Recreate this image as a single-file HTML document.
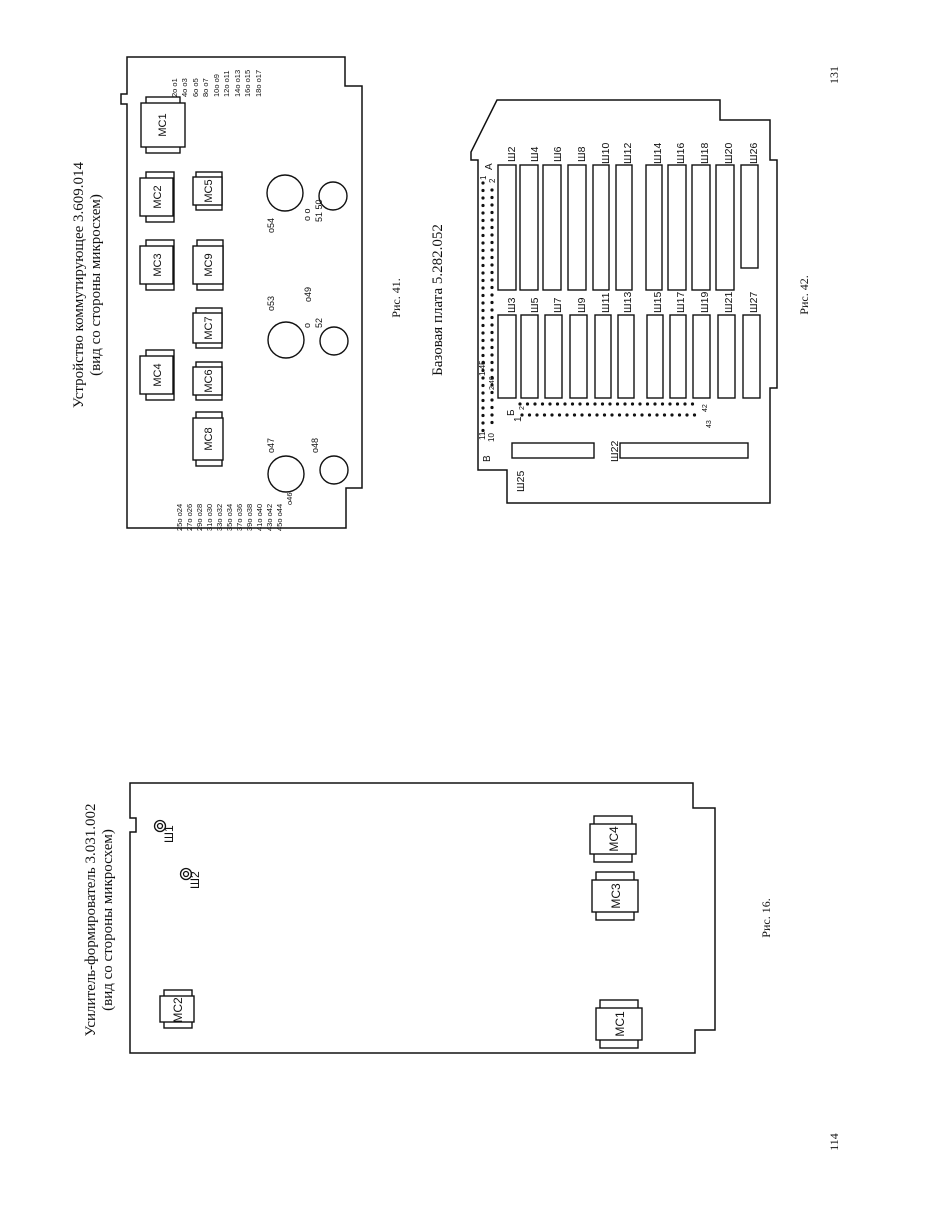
<!DOCTYPE html>
<html><head><meta charset="utf-8"><style>
html,body{margin:0;padding:0;background:#fff}
svg{display:block}
text{font-family:"Liberation Sans","DejaVu Sans",sans-serif;fill:#111}
.s{font-family:"Liberation Serif","DejaVu Serif",serif}
</style></head><body>
<svg width="935" height="1224" viewBox="0 0 935 1224" xmlns="http://www.w3.org/2000/svg">
<g fill="none" stroke="#111" stroke-width="1.5">
<!-- Board 1 outline -->
<path d="M127,57 L345,57 L345,86 L362,86 L362,488 L346,488 L346,528 L127,528 L127,104 L121,104 L121,94 L127,94 Z"/>
<!-- Board 2 outline -->
<path d="M497,100 L720,100 L720,120 L770,120 L770,160 L777,160 L777,388 L770,388 L770,503 L507,503 L507,470 L478,470 L478,160 L471,160 L471,152 Z"/>
<!-- Board 3 outline -->
<path d="M130,783 L693,783 L693,808 L715,808 L715,1030 L695,1030 L695,1053 L130,1053 L130,832 L136,832 L136,818 L130,818 Z"/>
</g>

<!-- chips board1 -->
<g fill="#fff" stroke="#111" stroke-width="1.4">
<rect x="146" y="97" width="34" height="56"/><rect x="141" y="103" width="44" height="44"/>
<rect x="146" y="172" width="28" height="50"/><rect x="140" y="178" width="33" height="38"/>
<rect x="146" y="240" width="28" height="50"/><rect x="140" y="246" width="33" height="38"/>
<rect x="146" y="350" width="28" height="50"/><rect x="140" y="356" width="33" height="38"/>
<rect x="196" y="172" width="26" height="38"/><rect x="193" y="177" width="29" height="28"/>
<rect x="197" y="240" width="26" height="50"/><rect x="193" y="246" width="30" height="38"/>
<rect x="196" y="308" width="26" height="40"/><rect x="193" y="313" width="29" height="30"/>
<rect x="196" y="362" width="26" height="38"/><rect x="193" y="367" width="29" height="28"/>
<rect x="196" y="412" width="26" height="54"/><rect x="193" y="418" width="30" height="42"/>
</g>
<g font-size="11">
<text transform="translate(166,125) rotate(-90)" text-anchor="middle">MC1</text>
<text transform="translate(161,197) rotate(-90)" text-anchor="middle">MC2</text>
<text transform="translate(161,265) rotate(-90)" text-anchor="middle">MC3</text>
<text transform="translate(161,375) rotate(-90)" text-anchor="middle">MC4</text>
<text transform="translate(212,191) rotate(-90)" text-anchor="middle">MC5</text>
<text transform="translate(212,265) rotate(-90)" text-anchor="middle">MC9</text>
<text transform="translate(212,328) rotate(-90)" text-anchor="middle">MC7</text>
<text transform="translate(212,381) rotate(-90)" text-anchor="middle">MC6</text>
<text transform="translate(212,439) rotate(-90)" text-anchor="middle">MC8</text>
</g>
<g fill="none" stroke="#111" stroke-width="1.4">
<circle cx="285" cy="193" r="18"/><circle cx="333" cy="196" r="14"/>
<circle cx="286" cy="340" r="18"/><circle cx="334" cy="341" r="14"/>
<circle cx="286" cy="474" r="18"/><circle cx="334" cy="470" r="14"/>
</g>
<g font-size="9">
<text transform="translate(274,233) rotate(-90)">o54</text>
<text transform="translate(274,311) rotate(-90)">o53</text>
<text transform="translate(311,302) rotate(-90)">o49</text>
<text transform="translate(310,328) rotate(-90)">o</text>
<text transform="translate(322,328) rotate(-90)">52</text>
<text transform="translate(310,221) rotate(-90)">o o</text>
<text transform="translate(322,222) rotate(-90)">51 50</text>
<text transform="translate(274,453) rotate(-90)">o47</text>
<text transform="translate(318,453) rotate(-90)">o48</text>
</g>
<g font-size="7.5">
<text transform="translate(177,97) rotate(-90)">2o  o1</text>
<text transform="translate(187,97) rotate(-90)">4o  o3</text>
<text transform="translate(198,97) rotate(-90)">6o  o5</text>
<text transform="translate(208,97) rotate(-90)">8o  o7</text>
<text transform="translate(219,97) rotate(-90)">10o o9</text>
<text transform="translate(229,97) rotate(-90)">12o o11</text>
<text transform="translate(240,97) rotate(-90)">14o o13</text>
<text transform="translate(250,97) rotate(-90)">16o o15</text>
<text transform="translate(261,97) rotate(-90)">18o o17</text>
<text transform="translate(182,531) rotate(-90)">25o  o24</text>
<text transform="translate(192,531) rotate(-90)">27o  o26</text>
<text transform="translate(202,531) rotate(-90)">29o  o28</text>
<text transform="translate(212,531) rotate(-90)">31o  o30</text>
<text transform="translate(222,531) rotate(-90)">33o  o32</text>
<text transform="translate(232,531) rotate(-90)">35o  o34</text>
<text transform="translate(242,531) rotate(-90)">37o  o36</text>
<text transform="translate(252,531) rotate(-90)">39o  o38</text>
<text transform="translate(262,531) rotate(-90)">41o  o40</text>
<text transform="translate(272,531) rotate(-90)">43o  o42</text>
<text transform="translate(282,531) rotate(-90)">45o  o44</text>
<text transform="translate(292,505) rotate(-90)">o46</text>
</g>
<g class="s" font-size="15">
<text class="s" transform="translate(83,285) rotate(-90)" text-anchor="middle">Устройство коммутирующее 3.609.014</text>
<text class="s" transform="translate(100,285) rotate(-90)" text-anchor="middle">(вид со стороны микросхем)</text>
<text class="s" transform="translate(442,300) rotate(-90)" text-anchor="middle">Базовая плата 5.282.052</text>
<text class="s" transform="translate(95,920) rotate(-90)" text-anchor="middle">Усилитель-формирователь 3.031.002</text>
<text class="s" transform="translate(112,920) rotate(-90)" text-anchor="middle">(вид со стороны микросхем)</text>
</g>
<g font-size="12">
<text class="s" transform="translate(400,298) rotate(-90)" text-anchor="middle">Рис. 41.</text>
<text class="s" transform="translate(808,295) rotate(-90)" text-anchor="middle">Рис. 42.</text>
<text class="s" transform="translate(770,918) rotate(-90)" text-anchor="middle">Рис. 16.</text>
<text class="s" transform="translate(838,75) rotate(-90)" text-anchor="middle">131</text>
<text class="s" transform="translate(838,1142) rotate(-90)" text-anchor="middle">114</text>
</g>

<!-- Board 2 connectors -->
<g fill="none" stroke="#111" stroke-width="1.4">
<rect x="498" y="165" width="18" height="125"/>
<rect x="520" y="165" width="18" height="125"/>
<rect x="543" y="165" width="18" height="125"/>
<rect x="568" y="165" width="18" height="125"/>
<rect x="593" y="165" width="16" height="125"/>
<rect x="616" y="165" width="16" height="125"/>
<rect x="646" y="165" width="16" height="125"/>
<rect x="668" y="165" width="18" height="125"/>
<rect x="692" y="165" width="18" height="125"/>
<rect x="716" y="165" width="18" height="125"/>
<rect x="741" y="165" width="17" height="103"/>
<rect x="498" y="315" width="18" height="83"/>
<rect x="521" y="315" width="17" height="83"/>
<rect x="545" y="315" width="17" height="83"/>
<rect x="570" y="315" width="17" height="83"/>
<rect x="595" y="315" width="16" height="83"/>
<rect x="618" y="315" width="16" height="83"/>
<rect x="647" y="315" width="16" height="83"/>
<rect x="670" y="315" width="16" height="83"/>
<rect x="693" y="315" width="17" height="83"/>
<rect x="718" y="315" width="17" height="83"/>
<rect x="743" y="315" width="17" height="83"/>
<rect x="512" y="443" width="82" height="15"/>
<rect x="620" y="443" width="128" height="15"/>
</g>
<g stroke="#111" stroke-width="3.2" stroke-linecap="round" stroke-dasharray="0 7.5" fill="none">
<line x1="483" y1="183" x2="483" y2="432"/>
<line x1="492" y1="190" x2="492" y2="428"/>
<line x1="520" y1="404" x2="700" y2="404"/>
<line x1="522" y1="415" x2="702" y2="415"/>
</g>
<g font-size="10">
<text transform="translate(492,170) rotate(-90)">А</text>
<text transform="translate(490,462) rotate(-90)">В</text>
<text transform="translate(514,416) rotate(-90)">Б</text>
<text transform="translate(521,422) rotate(-90)">1</text>
<text transform="translate(524,410) rotate(-90)" font-size="7">2</text>
<text transform="translate(486,180) rotate(-90)" font-size="8">1</text>
<text transform="translate(495,183) rotate(-90)" font-size="8">2</text>
<text transform="translate(485,376) rotate(-90)" font-size="8">1 45</text>
<text transform="translate(494,390) rotate(-90)" font-size="7">2 46</text>
<text transform="translate(485,440) rotate(-90)" font-size="8">11</text>
<text transform="translate(494,442) rotate(-90)" font-size="8">10</text>
<text transform="translate(707,412) rotate(-90)" font-size="7">42</text>
<text transform="translate(711,428) rotate(-90)" font-size="7">43</text>
</g>
<g font-size="10.5">
<text transform="translate(515,162) rotate(-90)">Ш2</text>
<text transform="translate(538,162) rotate(-90)">Ш4</text>
<text transform="translate(561,162) rotate(-90)">Ш6</text>
<text transform="translate(585,162) rotate(-90)">Ш8</text>
<text transform="translate(609,164) rotate(-90)">Ш10</text>
<text transform="translate(631,164) rotate(-90)">Ш12</text>
<text transform="translate(661,164) rotate(-90)">Ш14</text>
<text transform="translate(684,164) rotate(-90)">Ш16</text>
<text transform="translate(708,164) rotate(-90)">Ш18</text>
<text transform="translate(732,164) rotate(-90)">Ш20</text>
<text transform="translate(757,164) rotate(-90)">Ш26</text>
<text transform="translate(515,313) rotate(-90)">Ш3</text>
<text transform="translate(538,313) rotate(-90)">Ш5</text>
<text transform="translate(561,313) rotate(-90)">Ш7</text>
<text transform="translate(585,313) rotate(-90)">Ш9</text>
<text transform="translate(609,313) rotate(-90)">Ш11</text>
<text transform="translate(631,313) rotate(-90)">Ш13</text>
<text transform="translate(661,313) rotate(-90)">Ш15</text>
<text transform="translate(684,313) rotate(-90)">Ш17</text>
<text transform="translate(708,313) rotate(-90)">Ш19</text>
<text transform="translate(732,313) rotate(-90)">Ш21</text>
<text transform="translate(757,313) rotate(-90)">Ш27</text>
<text transform="translate(524,492) rotate(-90)">Ш25</text>
<text transform="translate(618,462) rotate(-90)">Ш22</text>
</g>

<!-- Board 3 chips -->
<g fill="#fff" stroke="#111" stroke-width="1.4">
<rect x="164" y="990" width="28" height="38"/><rect x="160" y="996" width="34" height="26"/>
<rect x="600" y="1000" width="38" height="48"/><rect x="596" y="1008" width="46" height="32"/>
<rect x="596" y="872" width="38" height="48"/><rect x="592" y="880" width="46" height="32"/>
<rect x="594" y="816" width="38" height="46"/><rect x="590" y="824" width="46" height="30"/>
</g>
<g font-size="12">
<text transform="translate(182,1010) rotate(-90)" text-anchor="middle">MC2</text>
<text transform="translate(624,1024) rotate(-90)" text-anchor="middle">MC1</text>
<text transform="translate(620,896) rotate(-90)" text-anchor="middle">MC3</text>
<text transform="translate(618,839) rotate(-90)" text-anchor="middle">MC4</text>
<text transform="translate(173,843) rotate(-90)">Ш1</text>
<text transform="translate(199,889) rotate(-90)">Ш2</text>
</g>
<g fill="none" stroke="#111" stroke-width="1.3">
<circle cx="160" cy="826" r="5.5"/><circle cx="160" cy="826" r="2.5"/>
<circle cx="186" cy="874" r="5.5"/><circle cx="186" cy="874" r="2.5"/>
</g>
</svg>
</body></html>
